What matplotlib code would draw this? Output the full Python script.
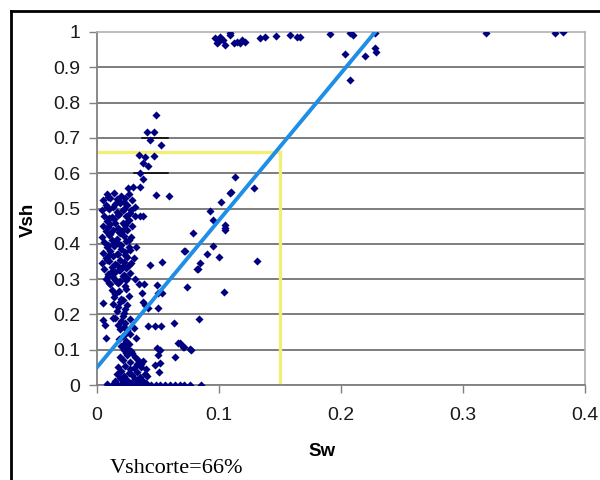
import matplotlib
matplotlib.use("Agg")
from matplotlib import pyplot as plt
from matplotlib.lines import Line2D
import numpy as np

plt.rcParams['font.family'] = ['Liberation Sans', 'DejaVu Sans']

# --- scatter data (Sw, Vsh) ---
# dense band at low Sw, upper part
sw_band_hi = [0.008, 0.014, 0.020, 0.026, 0.005, 0.011, 0.018, 0.023, 0.029,
              0.007, 0.013, 0.019, 0.025, 0.031, 0.004, 0.010, 0.016, 0.022, 0.028,
              0.006, 0.012, 0.018, 0.024, 0.035, 0.008, 0.014, 0.021, 0.026,
              0.005, 0.011, 0.017, 0.023, 0.029, 0.007, 0.013, 0.019, 0.025,
              0.004, 0.010, 0.016, 0.022, 0.028, 0.006, 0.012, 0.018, 0.024,
              0.008, 0.014, 0.020, 0.026, 0.032, 0.005, 0.011, 0.017, 0.023,
              0.007, 0.013, 0.019, 0.025, 0.030, 0.004, 0.010, 0.016, 0.022, 0.028,
              0.006, 0.012, 0.018, 0.024, 0.009, 0.015, 0.021, 0.027,
              0.007, 0.013, 0.019, 0.025, 0.031, 0.011, 0.017, 0.023,
              0.009, 0.016, 0.022, 0.008, 0.015, 0.021, 0.027, 0.010, 0.017,
              0.024, 0.009, 0.015, 0.021, 0.011, 0.018, 0.026, 0.009, 0.014,
              0.020, 0.027, 0.010, 0.016, 0.023, 0.008, 0.015, 0.021, 0.012,
              0.019, 0.026, 0.009, 0.015, 0.022, 0.010, 0.016, 0.024]
vsh_band_hi = [0.54, 0.545, 0.535, 0.54, 0.525, 0.53, 0.52, 0.53, 0.525,
               0.51, 0.505, 0.515, 0.51, 0.505, 0.495, 0.50, 0.49, 0.50, 0.495,
               0.48, 0.475, 0.485, 0.48, 0.478, 0.465, 0.47, 0.46, 0.468,
               0.45, 0.455, 0.445, 0.452, 0.45, 0.435, 0.44, 0.43, 0.438,
               0.42, 0.425, 0.415, 0.422, 0.42, 0.405, 0.41, 0.40, 0.408,
               0.39, 0.395, 0.385, 0.392, 0.39, 0.375, 0.38, 0.37, 0.378,
               0.36, 0.365, 0.355, 0.362, 0.36, 0.345, 0.35, 0.34, 0.348, 0.345,
               0.33, 0.335, 0.325, 0.332, 0.315, 0.32, 0.31, 0.318,
               0.30, 0.305, 0.295, 0.302, 0.30, 0.285, 0.29, 0.28,
               0.532, 0.527, 0.518, 0.503, 0.512, 0.497, 0.488, 0.473, 0.482,
               0.458, 0.447, 0.458, 0.438, 0.428, 0.433, 0.412, 0.398, 0.403,
               0.398, 0.383, 0.368, 0.372, 0.367, 0.353, 0.342, 0.338, 0.323,
               0.327, 0.339, 0.308, 0.297, 0.312, 0.288, 0.292, 0.297]

# dense band at low Sw, lower part
sw_band_lo = [0.012, 0.018, 0.024, 0.014, 0.020, 0.026, 0.013, 0.019, 0.025,
              0.016, 0.022, 0.015, 0.021, 0.027, 0.017, 0.023, 0.019, 0.025, 0.030,
              0.021, 0.027, 0.018, 0.024, 0.032, 0.020, 0.026, 0.022, 0.028,
              0.019, 0.025, 0.031, 0.021, 0.027, 0.034, 0.038,
              0.017, 0.023, 0.030, 0.036, 0.040, 0.020, 0.026, 0.033, 0.039,
              0.016, 0.022, 0.029, 0.035, 0.041, 0.019, 0.025, 0.031, 0.038,
              0.015, 0.021, 0.028, 0.034, 0.040,
              0.015, 0.021, 0.017, 0.023, 0.020, 0.022, 0.024, 0.023, 0.025,
              0.024, 0.029, 0.033, 0.036, 0.027, 0.032]
vsh_band_lo = [0.27, 0.265, 0.272, 0.25, 0.245, 0.252, 0.23, 0.235, 0.228,
               0.21, 0.205, 0.19, 0.195, 0.188, 0.17, 0.175, 0.16, 0.155, 0.162,
               0.14, 0.145, 0.13, 0.125, 0.132, 0.11, 0.115, 0.10, 0.095,
               0.08, 0.085, 0.078, 0.07, 0.065, 0.072, 0.068,
               0.05, 0.055, 0.048, 0.052, 0.045, 0.04, 0.035, 0.038, 0.032,
               0.03, 0.025, 0.028, 0.022, 0.026, 0.02, 0.015, 0.018, 0.012,
               0.01, 0.008, 0.006, 0.01, 0.005,
               0.258, 0.24, 0.22, 0.215, 0.18, 0.165, 0.148, 0.12, 0.105,
               0.09, 0.09, 0.06, 0.06, 0.045, 0.015]

# row of points lying on Vsh = 0
sw_zero = [0.008, 0.012, 0.016, 0.020, 0.024, 0.028, 0.032, 0.036, 0.040,
           0.044, 0.048, 0.052, 0.056, 0.060, 0.064, 0.068, 0.071, 0.076, 0.085]
vsh_zero = [0.002, 0.0, 0.002, 0.0, 0.003, 0.0, 0.002, 0.0, 0.002,
            0.0, 0.001, 0.0, 0.001, 0.0, 0.0, 0.001, 0.0, 0.0, 0.001]

# scattered points
sw_scatter = [0.0484, 0.0407, 0.0467, 0.0434, 0.0522, 0.0467, 0.0347, 0.0393,
              0.0375, 0.042, 0.0352, 0.038, 0.0352, 0.0298, 0.0257, 0.0484,
              0.0593, 0.0375, 0.031,
              0.113, 0.1287, 0.109, 0.110, 0.102, 0.0926, 0.0953, 0.105, 0.105,
              0.105, 0.079, 0.0716, 0.0953, 0.0904, 0.100, 0.0844, 0.0817, 0.083,
              0.131, 0.0735, 0.104, 0.0839, 0.068, 0.0713, 0.0768,
              0.0434, 0.053, 0.0721, 0.0347, 0.0385, 0.049, 0.0366, 0.038,
              0.0393, 0.042, 0.0502, 0.053, 0.0502, 0.0052, 0.0052, 0.0066,
              0.0134, 0.0074, 0.042, 0.0475, 0.0522, 0.0634, 0.049, 0.0516,
              0.0502, 0.0475, 0.0516, 0.051, 0.064, 0.0667, 0.0707, 0.0762]
vsh_scatter = [0.765, 0.718, 0.718, 0.694, 0.680, 0.649, 0.652, 0.647,
               0.630, 0.621, 0.600, 0.584, 0.562, 0.562, 0.557, 0.538,
               0.536, 0.479, 0.479,
               0.590, 0.557, 0.543, 0.546, 0.517, 0.493, 0.467, 0.453, 0.444,
               0.439, 0.430, 0.380, 0.394, 0.371, 0.363, 0.347, 0.328, 0.328,
               0.352, 0.277, 0.264, 0.188, 0.118, 0.107, 0.099,
               0.340, 0.349, 0.380, 0.286, 0.286, 0.283, 0.260, 0.236,
               0.227, 0.217, 0.260, 0.260, 0.217, 0.231, 0.184, 0.170,
               0.189, 0.132, 0.167, 0.167, 0.167, 0.176, 0.104, 0.099,
               0.085, 0.057, 0.061, 0.036, 0.078, 0.118, 0.107, 0.102]

# points near Vsh = 1
sw_top = [0.0967, 0.098, 0.101, 0.0995, 0.1035, 0.105, 0.109, 0.112, 0.1145,
          0.117, 0.1186, 0.121, 0.1336, 0.1377, 0.147, 0.158, 0.1637, 0.166,
          0.191, 0.207, 0.210, 0.228, 0.203, 0.2197, 0.228, 0.229, 0.207,
          0.109, 0.319, 0.375, 0.382]
vsh_top = [0.982, 0.968, 0.987, 0.973, 0.977, 0.963, 0.991, 0.968, 0.973,
           0.968, 0.977, 0.973, 0.982, 0.987, 0.989, 0.991, 0.987, 0.987,
           0.994, 0.996, 0.991, 0.996, 0.937, 0.933, 0.954, 0.944, 0.864,
           0.997, 0.996, 0.998, 1.0]

# fitted trend line and cut-off
fit_sw = [0.0, 0.228]
fit_vsh = [0.05, 1.0]
sw_cut = 0.15
vsh_cut = 0.66

sw_all = sw_band_hi + sw_band_lo + sw_zero + sw_scatter + sw_top
vsh_all = vsh_band_hi + vsh_band_lo + vsh_zero + vsh_scatter + vsh_top

fig = plt.figure(figsize=(6, 4.8), dpi=100)
ax = fig.add_axes([97/600, 1-385/480, 488/600, 353/480])

ax.scatter(sw_all, vsh_all, marker='D', s=17, c='#000080', linewidths=0, zorder=3)
ax.plot(fit_sw, fit_vsh, c='#1e8ee6', lw=2.8, zorder=4)
ax.plot([0, sw_cut], [vsh_cut, vsh_cut], c='#f2ee78', lw=2.4, zorder=2)
ax.plot([sw_cut, sw_cut], [0, vsh_cut], c='#f2ee78', lw=2.4, zorder=2)
# small dark marks on the 0.6 / 0.7 grid lines
ax.plot([0.037, 0.058], [0.7, 0.7], c='k', lw=1.1, zorder=2)
ax.plot([0.030, 0.058], [0.6, 0.6], c='k', lw=1.1, zorder=2)

ax.set_xlim(0, 0.4)
ax.set_ylim(0, 1)
ax.set_xticks([0, 0.1, 0.2, 0.3, 0.4])
ax.set_xticklabels(['0', '0.1', '0.2', '0.3', '0.4'])
ax.set_yticks(np.arange(0, 1.01, 0.1))
ax.set_yticklabels(['0', '0.1', '0.2', '0.3', '0.4', '0.5', '0.6', '0.7', '0.8', '0.9', '1'])
for v in np.arange(0.1, 0.95, 0.1):
    ax.axhline(v, c='#5a5a5a', lw=1.1, zorder=1)
ax.axhline(0, c='#808080', lw=1.3, zorder=1)
ax.tick_params(direction='out', length=6, width=1, color='#808080',
               labelsize=14, pad=6, labelcolor='#1a1a1a')
ax.tick_params(axis='x', pad=10)
for side in ['left', 'bottom']:
    ax.spines[side].set_color('#808080')
    ax.spines[side].set_linewidth(1.3)
for side in ['top', 'right']:
    ax.spines[side].set_color('#b0b0b0')
    ax.spines[side].set_linewidth(1.2)

fig.text(28/600, 1-220/480, 'Vsh', rotation=90, fontsize=13.5, fontweight='bold',
         ha='center', va='center')
fig.text(322/600, 1-452/480, 'Sw', fontsize=13.5, fontweight='bold',
         ha='center', va='center')
fig.text(110/600, 2/480, 'Vshcorte=66%', fontsize=16, family='Liberation Serif',
         ha='left', va='bottom')

# outer frame
fig.add_artist(Line2D([11/600, 11/600], [0, 1-11/480], c='k', lw=2, transform=fig.transFigure))
fig.add_artist(Line2D([11/600, 1], [1-11/480, 1-11/480], c='k', lw=2, transform=fig.transFigure))

fig.savefig('out.png', dpi=100)
